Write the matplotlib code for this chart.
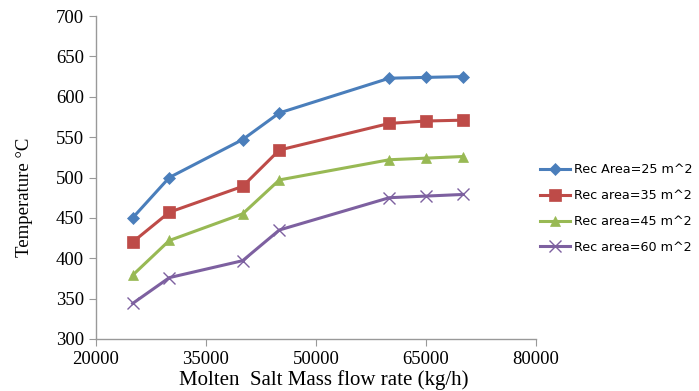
import matplotlib.pyplot as plt

# data
flow_rate = [25000, 30000, 40000, 45000, 60000, 65000, 70000]
temp_25 = [450, 500, 547, 580, 623, 624, 625]
temp_35 = [420, 457, 489, 534, 567, 570, 571]
temp_45 = [379, 422, 455, 497, 522, 524, 526]
temp_60 = [344, 376, 397, 435, 475, 477, 479]
series_labels = ["Rec Area=25 m^2", "Rec area=35 m^2", "Rec area=45 m^2", "Rec area=60 m^2"]
x_ticks = [20000, 35000, 50000, 65000, 80000]
y_ticks = [300, 350, 400, 450, 500, 550, 600, 650, 700]

COLORS = ["#4A7EBB", "#BE4B48", "#98B954", "#7D60A0"]
MARKERS = ["D", "s", "^", "x"]
SIZES = [6.5, 8.5, 7.5, 8.5]

SERIF = ["Liberation Serif", "DejaVu Serif"]

fig = plt.figure(figsize=(6.99, 3.91), dpi=100)
ax = fig.add_axes([0.1373, 0.133, 0.6295, 0.826])

all_temps = [temp_25, temp_35, temp_45, temp_60]
for temps, lab, c, m, s in zip(all_temps, series_labels, COLORS, MARKERS, SIZES):
    ax.plot(flow_rate, temps, color=c, marker=m, markersize=s, linewidth=2.2,
            markeredgewidth=1.0 if m == "x" else 0.5, label=lab)

ax.set_xlim(20000, 80000)
ax.set_ylim(300, 700)
ax.set_xticks(x_ticks)
ax.set_yticks(y_ticks)

for side in ["top", "right"]:
    ax.spines[side].set_visible(False)
for side in ["left", "bottom"]:
    ax.spines[side].set_color("#999999")
    ax.spines[side].set_linewidth(1.0)
ax.tick_params(direction="out", length=5, color="#999999", labelsize=13.5)
for lbl in ax.get_xticklabels() + ax.get_yticklabels():
    lbl.set_family(SERIF)

ax.set_xlabel("Molten  Salt Mass flow rate (kg/h)", family=SERIF, fontsize=15)
ax.xaxis.set_label_coords(0.518, -0.095)
ax.set_ylabel("Temperature \u00b0C", family=SERIF, fontsize=13.5)
ax.yaxis.set_label_coords(-0.143, 0.44)

leg = ax.legend(loc="upper left", bbox_to_anchor=(0.772, 0.582), bbox_transform=fig.transFigure,
                frameon=False, fontsize=9.2, handlelength=2.4, handletextpad=0.3,
                labelspacing=1.0, borderpad=0, borderaxespad=0)

fig.savefig("out.png", dpi=100)
